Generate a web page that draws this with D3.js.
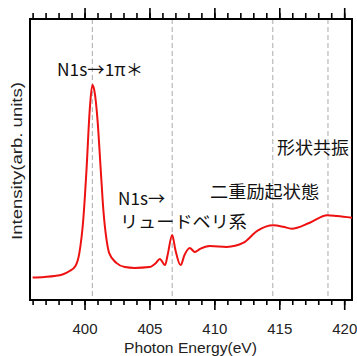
<!DOCTYPE html>
<html>
<head>
<meta charset="utf-8">
<script src="https://cdn.jsdelivr.net/npm/d3@7"></script>
<style>
  body { margin: 0; background: #fff; }
  svg { display: block; }
</style>
</head>
<body>
<svg id="chart" width="357" height="356"></svg>
<script>
// spectrum (energy in eV, intensity arb.)
const energy = [396.0, 396.9, 397.7, 398.3, 398.85, 399.3, 399.6, 399.9, 400.15, 400.4,
  400.6, 400.75, 401.0, 401.25, 401.45, 401.7, 401.9, 402.45, 403.1, 403.85,
  405.0, 405.5, 405.8, 406.2, 406.4, 406.75, 407.0, 407.4, 407.7, 408.1,
  408.5, 408.9, 409.65, 410.95, 412.25, 413.3, 414.55, 415.3, 415.95, 417.35,
  418.7, 419.45, 420.6];
const intensity = [7.7, 7.9, 8.2, 8.75, 10.0, 11.8, 16.4, 28.2, 46, 67.5,
  76.4, 74.6, 64, 46, 31.8, 21, 16.4, 12.9, 11.4, 11.1,
  11.4, 12.9, 14.3, 12.1, 15.7, 22.9, 17.5, 12.1, 15.7, 18.2,
  16.8, 17.9, 18.9, 18.6, 20.1, 24.3, 26.3, 25.8, 25.1, 27.25,
  29.9, 29.6, 29.0];

const markers = [400.6, 406.75, 414.5, 418.75];
const majorTicks = [400, 405, 410, 415, 420];
const minorTicks = d3.range(396, 421);

// annotations: text, left energy, centre intensity
const noteText = ["N1s\u21921\u03c0\uff0a", "\u5f62\u72b6\u5171\u632f", "\u4e8c\u91cd\u52b1\u8d77\u72b6\u614b",
  "N1s\u2192", "\u30ea\u30e5\u30fc\u30c9\u30d9\u30ea\u7cfb"];
const noteE = [397.88, 414.83, 409.67, 402.58, 402.73];
const noteI = [82.5, 54.4, 38.9, 36.1, 27.9];
const noteW = [86, 72, 109, 47, 127];

const svg = d3.select("#chart");
const m = { left: 30, right: 352, top: 19, bottom: 300 };

const x = d3.scaleLinear().domain([395.8, 420.6]).range([m.left, m.right]);
const y = d3.scaleLinear().domain([0, 100]).range([m.bottom - 1, m.top]);

// dashed markers
svg.append("g").selectAll("line")
  .data(markers).enter().append("line")
  .attr("x1", d => x(d)).attr("x2", d => x(d))
  .attr("y1", m.top).attr("y2", m.bottom)
  .attr("stroke", "#aaa")
  .attr("stroke-width", 1)
  .attr("stroke-dasharray", "5,3");

// ticks
function drawAxis(axis, ty) {
  const g = svg.append("g")
    .attr("transform", `translate(0,${ty})`)
    .call(axis);
  g.select(".domain").remove();
  g.selectAll(".tick line").attr("stroke", "#000").attr("stroke-width", 1.6);
  g.selectAll("text")
    .attr("font-family", "Liberation Sans, Arial, sans-serif")
    .attr("font-size", 15)
    .attr("fill", "#222");
  return g;
}
drawAxis(d3.axisBottom(x).tickValues(minorTicks).tickSize(5).tickFormat(""), m.bottom);
drawAxis(d3.axisBottom(x).tickValues(majorTicks).tickSize(10).tickPadding(13).tickFormat(d3.format("d")), m.bottom);
drawAxis(d3.axisTop(x).tickValues(minorTicks).tickSize(6).tickFormat(""), m.top);
drawAxis(d3.axisTop(x).tickValues(majorTicks).tickSize(11).tickFormat(""), m.top);

// frame
svg.append("rect")
  .attr("x", m.left).attr("y", m.top)
  .attr("width", m.right - m.left).attr("height", m.bottom - m.top)
  .attr("fill", "none")
  .attr("stroke", "#000")
  .attr("stroke-width", 2);

// spectrum line
const line = d3.line()
  .x((d, i) => x(energy[i]))
  .y(d => y(d))
  .curve(d3.curveMonotoneX);

svg.append("path")
  .datum(intensity)
  .attr("d", line)
  .attr("fill", "none")
  .attr("stroke", "#ee1111")
  .attr("stroke-width", 2);

// annotations
svg.append("g").selectAll("text")
  .data(noteText).enter().append("text")
  .attr("x", (d, i) => x(noteE[i]))
  .attr("y", (d, i) => y(noteI[i]))
  .attr("dominant-baseline", "central")
  .attr("font-family", "Noto Sans CJK JP")
  .attr("font-size", 17)
  .attr("fill", "#111")
  .attr("textLength", (d, i) => noteW[i])
  .attr("lengthAdjust", "spacingAndGlyphs")
  .text(d => d);

// axis titles
svg.append("text")
  .attr("x", 190.5)
  .attr("y", 353)
  .attr("text-anchor", "middle")
  .attr("font-family", "Liberation Sans, Arial, sans-serif")
  .attr("font-size", 15.5)
  .attr("fill", "#222")
  .attr("textLength", 133)
  .attr("lengthAdjust", "spacingAndGlyphs")
  .text("Photon Energy(eV)");

svg.append("text")
  .attr("transform", "translate(21.5,161) rotate(-90)")
  .attr("text-anchor", "middle")
  .attr("font-family", "Liberation Sans, Arial, sans-serif")
  .attr("font-size", 14)
  .attr("fill", "#222")
  .attr("textLength", 158)
  .attr("lengthAdjust", "spacingAndGlyphs")
  .text("Intensity(arb. units)");
</script>
</body>
</html>
